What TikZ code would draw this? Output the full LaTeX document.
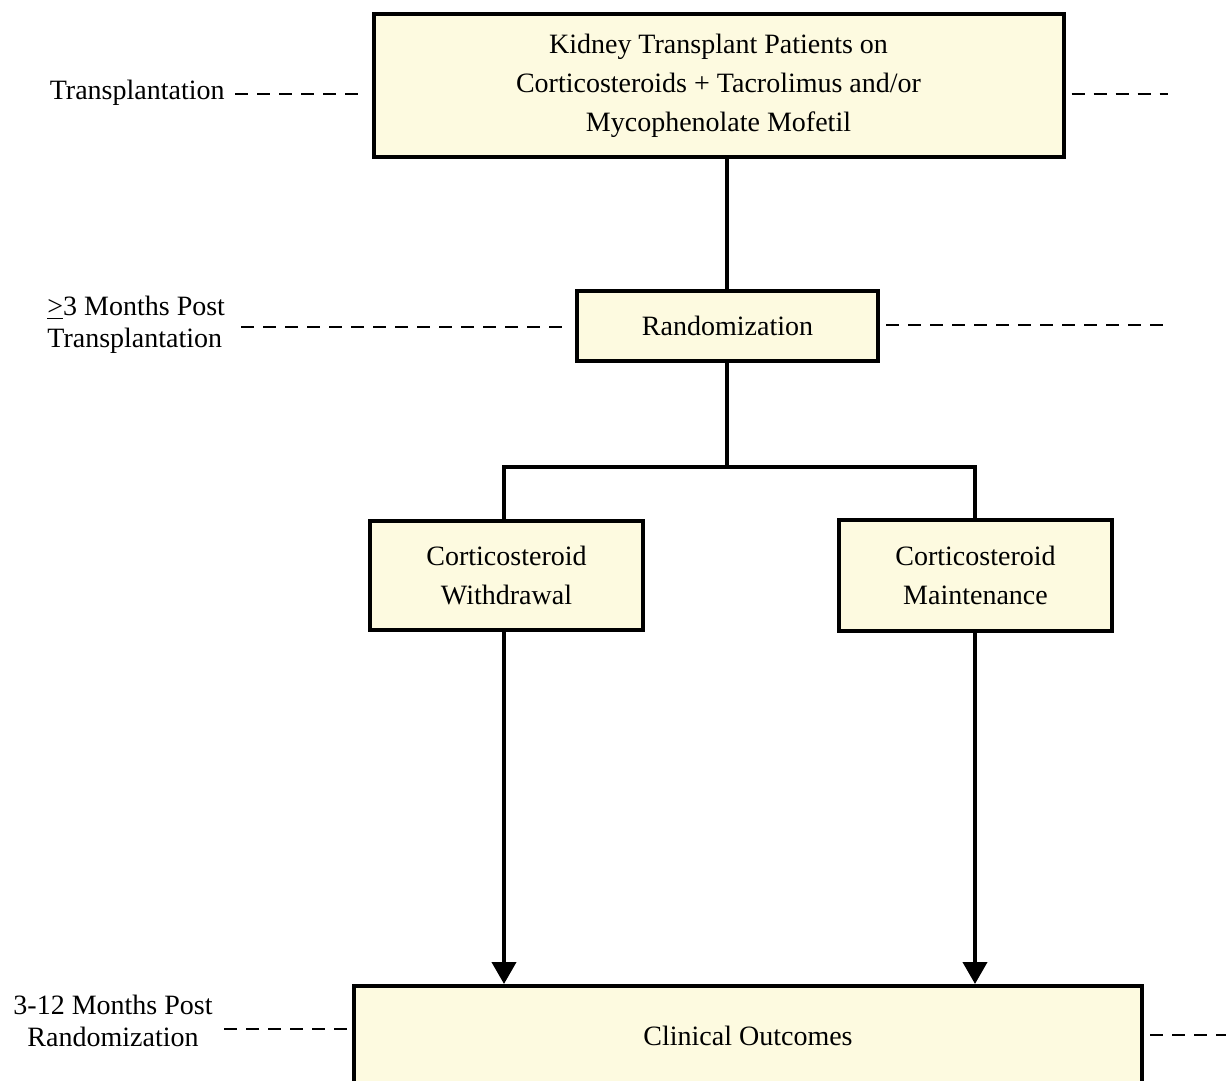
\documentclass[tikz,border=0pt]{standalone}
\usepackage{fontspec}
\setmainfont{Liberation Serif}
\usetikzlibrary{arrows.meta}
\definecolor{boxfill}{RGB}{253,250,224}

\begin{document}
\begin{tikzpicture}[x=0.5pt, y=-0.5pt,
  stagebox/.style={draw=black, line width=2pt, fill=boxfill, align=center,
    font=\fontsize{14}{19.5}\selectfont, inner sep=0pt},
  timelabel/.style={font=\fontsize{14}{16}\selectfont, inner sep=0pt},
  timeline/.style={line width=1pt, dash pattern=on 6.5pt off 4.5pt},
  link/.style={line width=2pt},
  arrowlink/.style={line width=2pt, -{Triangle[width=12pt, length=11pt]}}]
  \useasboundingbox (0,0) rectangle (1226,1081);
  % boxes
  \node[stagebox, minimum width=345pt, minimum height=71.5pt] (patients) at (718.5,85.5)
    {Kidney Transplant Patients on\\Corticosteroids + Tacrolimus and/or\\Mycophenolate Mofetil};
  \node[stagebox, minimum width=150.5pt, minimum height=35pt] (random) at (727.5,326) {Randomization};
  \node[stagebox, minimum width=136.5pt, minimum height=54.5pt] (withdraw) at (506.5,575.5)
    {Corticosteroid\\Withdrawal};
  \node[stagebox, minimum width=136.5pt, minimum height=55.5pt] (maintain) at (975.5,575.5)
    {Corticosteroid\\Maintenance};
  \node[stagebox, minimum width=394pt, minimum height=50pt] (outcomes) at (748,1036) {Clinical Outcomes};
  % time labels
  \node[timelabel, anchor=east] (tx) at (225,93) {Transplantation};
  \node[timelabel, anchor=west, align=left] (post) at (47,325) {\underline{>}3 Months Post\\Transplantation};
  \node[timelabel, align=center] (follow) at (113,1021) {3-12 Months Post\\Randomization};
  \coordinate (txend) at (1168,94);
  \coordinate (postend) at (1168,325);
  \coordinate (followend) at (1226,1035);
  % dashed time lines
  \draw[timeline] ([xshift=5pt]tx.east |- 0,94) -- ([xshift=-4pt]patients.west |- 0,94);
  \draw[timeline] ([xshift=3pt]patients.east |- txend) -- (txend);
  \draw[timeline] (241,327) -- ([xshift=-3pt]random.west |- 0,327);
  \draw[timeline] ([xshift=3pt]random.east |- postend) -- (postend);
  \draw[timeline] (224,1029) -- ([xshift=-2pt]outcomes.west |- 0,1029);
  \draw[timeline] ([xshift=3pt]outcomes.east |- followend) -- (followend);
  % connectors
  \draw[link] (727,157) -- (random.north -| 727,0);
  \draw[link] (random.south -| 727,0) -- (727,467) coordinate (split);
  \draw[link] (withdraw.north -| 504,0) |- (split) -| (maintain.north -| 975,0);
  \draw[arrowlink] (withdraw.south -| 504,0) -- (outcomes.north -| 504,0);
  \draw[arrowlink] (maintain.south -| 975,0) -- (outcomes.north -| 975,0);
\end{tikzpicture}
\end{document}
